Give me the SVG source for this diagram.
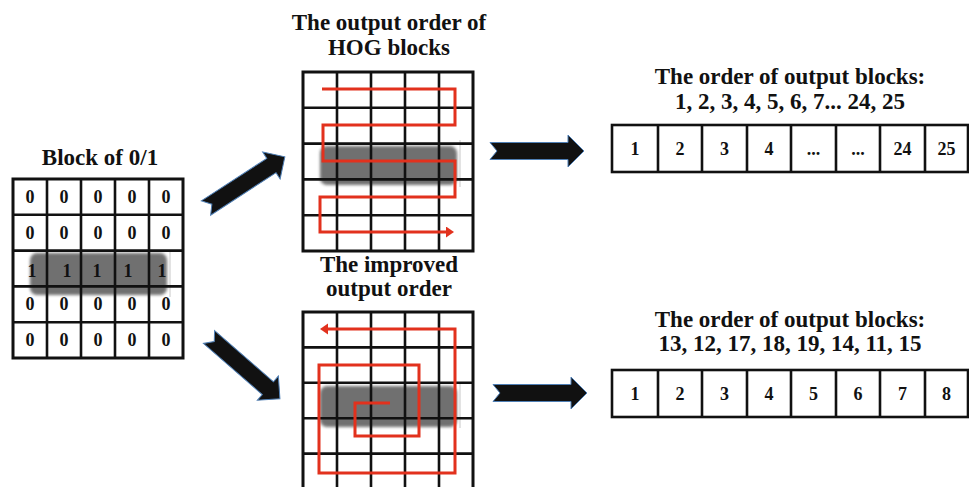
<svg xmlns="http://www.w3.org/2000/svg" width="969" height="487" viewBox="0 0 969 487">
<style>
text{font-family:"Liberation Serif","Times New Roman",serif;font-weight:bold;fill:#111;text-anchor:middle}
.t{font-size:23px}
.d{font-size:18px}
.g{fill:none;stroke:#111;stroke-width:2.6}
.o{fill:none;stroke:#111;stroke-width:3}
.red{fill:none;stroke:#e2311d;stroke-width:3}
.smear{fill:#585858;opacity:0.85;filter:url(#blur)}
.faint{stroke:#c8c8c8;stroke-width:1}
.arr{fill:#111;stroke:#4f7fb5;stroke-width:1}
.box{fill:#fff;stroke:#111;stroke-width:2.6}
</style>
<defs>
<filter id="blur" x="-10%" y="-30%" width="120%" height="160%"><feGaussianBlur stdDeviation="1.5"/></filter>
<marker id="rh" markerUnits="userSpaceOnUse" markerWidth="10" markerHeight="12" refX="3" refY="5.5" orient="auto"><path d="M0,0 L8,5.5 L0,11 z" fill="#e2311d"/></marker>
<path id="barrow" d="M0,-8.5 L78,-8.5 L78,-16 L94,0 L78,16 L78,8.5 L0,8.5 L7,0 Z"/>
</defs>
<rect width="969" height="487" fill="#fff"/>

<g id="block01">
<text class="t" x="100" y="165">Block of 0/1</text>
<rect class="smear" x="30" y="253" width="137" height="42" rx="7"/>
<line class="faint" x1="170" y1="250" x2="170" y2="297"/>
<path class="g" d="M47,179V358M81,179V358M115,179V358M149,179V358M13,214.8H183M13,250.6H183M13,286.4H183M13,322.2H183"/>
<rect class="o" x="13" y="179" width="170" height="179"/>
<g>
<text class="d" x="30" y="203">0</text><text class="d" x="64" y="203">0</text><text class="d" x="98" y="203">0</text><text class="d" x="132" y="203">0</text><text class="d" x="166" y="203">0</text>
<text class="d" x="30" y="239">0</text><text class="d" x="64" y="239">0</text><text class="d" x="98" y="239">0</text><text class="d" x="132" y="239">0</text><text class="d" x="166" y="239">0</text>
<text class="d" x="32" y="277">1</text><text class="d" x="67" y="277">1</text><text class="d" x="97" y="277">1</text><text class="d" x="128" y="277">1</text><text class="d" x="162" y="277">1</text>
<text class="d" x="30" y="310">0</text><text class="d" x="64" y="310">0</text><text class="d" x="98" y="310">0</text><text class="d" x="132" y="310">0</text><text class="d" x="166" y="310">0</text>
<text class="d" x="30" y="346">0</text><text class="d" x="64" y="346">0</text><text class="d" x="98" y="346">0</text><text class="d" x="132" y="346">0</text><text class="d" x="166" y="346">0</text>
</g>
</g>

<g id="hog-order">
<text class="t" x="389" y="30">The output order of</text>
<text class="t" x="389" y="55">HOG blocks</text>
<rect class="smear" x="320" y="146" width="137" height="39" rx="7"/>
<line class="faint" x1="460" y1="140" x2="460" y2="187"/>
<path class="g" d="M337,72V251M371,72V251M405,72V251M439,72V251M303,107.8H473M303,143.6H473M303,179.4H473M303,215.2H473"/>
<rect class="o" x="303" y="72" width="170" height="179"/>
<path class="red" d="M322,89H455V125H323V161H455V197H320V232H449" marker-end="url(#rh)"/>
</g>

<g id="improved-order">
<text class="t" x="389" y="272">The improved</text>
<text class="t" x="389" y="296">output order</text>
<rect class="smear" x="320" y="386" width="137" height="41" rx="7"/>
<line class="faint" x1="460" y1="383" x2="460" y2="428"/>
<path class="g" d="M337,312V489M371,312V489M405,312V489M439,312V489M303,347.4H473M303,382.8H473M303,418.2H473M303,453.6H473"/>
<rect class="o" x="303" y="312" width="170" height="180"/>
<path class="red" d="M390,403H355V436H419V365H319V473H455V329H325" marker-end="url(#rh)"/>
</g>

<g id="order-top">
<text class="t" x="790" y="84">The order of output blocks:</text>
<text class="t" x="790" y="109">1, 2, 3, 4, 5, 6, 7... 24, 25</text>
<rect class="box" x="612" y="125" width="356" height="47"/>
<path class="g" d="M658,125V172M702,125V172M747,125V172M791,125V172M836,125V172M880,125V172M925,125V172"/>
<text class="d" x="635" y="155">1</text><text class="d" x="680" y="155">2</text><text class="d" x="724.5" y="155">3</text><text class="d" x="769" y="155">4</text><text class="d" x="813.5" y="155">...</text><text class="d" x="858" y="155">...</text><text class="d" x="902.5" y="155">24</text><text class="d" x="946.5" y="155">25</text>
</g>

<g id="order-bottom">
<text class="t" x="790" y="327">The order of output blocks:</text>
<text class="t" x="790" y="351">13, 12, 17, 18, 19, 14, 11, 15</text>
<rect class="box" x="612" y="370" width="356" height="47"/>
<path class="g" d="M658,370V417M702,370V417M747,370V417M791,370V417M836,370V417M880,370V417M925,370V417"/>
<text class="d" x="635" y="400">1</text><text class="d" x="680" y="400">2</text><text class="d" x="724.5" y="400">3</text><text class="d" x="769" y="400">4</text><text class="d" x="813.5" y="400">5</text><text class="d" x="858" y="400">6</text><text class="d" x="902.5" y="400">7</text><text class="d" x="946.5" y="400">8</text>
</g>

<g id="connectors">
<use href="#barrow" class="arr" transform="translate(206,208) rotate(-33)"/>
<use href="#barrow" class="arr" transform="translate(209,337) rotate(41)"/>
<use href="#barrow" class="arr" transform="translate(490,151)"/>
<use href="#barrow" class="arr" transform="translate(493,393)"/>
</g>
</svg>
